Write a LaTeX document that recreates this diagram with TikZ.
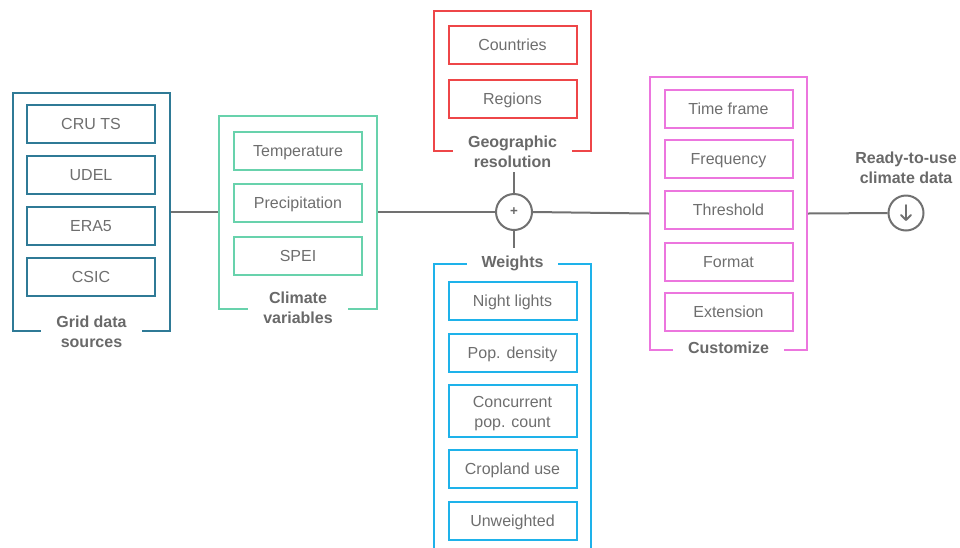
\documentclass[tikz,border=0pt]{standalone}
\usepackage{fontspec}
\setmainfont{Liberation Sans}
\usetikzlibrary{calc}
\newlength\ux
\setlength\ux{0.75pt}
\definecolor{gridc}{RGB}{47,122,150}
\definecolor{climc}{RGB}{104,210,172}
\definecolor{geoc}{RGB}{238,70,72}
\definecolor{weic}{RGB}{30,178,234}
\definecolor{cusc}{RGB}{236,118,222}
\definecolor{linec}{RGB}{113,113,113}
\definecolor{txtc}{RGB}{110,110,110}
\definecolor{labc}{RGB}{105,105,105}
\tikzset{
  itembox/.style={draw=#1, line width=2\ux, rectangle, inner sep=0pt,
    minimum width=128\ux, minimum height=38\ux, align=center, text=txtc,
    text height=8.8pt, text depth=0pt,
    font=\fontsize{12}{15}\selectfont},
  groupframe/.style={draw=#1, line width=2\ux, rectangle, inner sep=0pt},
  grouplabel/.style={fill=white, inner xsep=15\ux, inner ysep=1pt, align=center,
    text=labc, font=\fontsize{12}{15}\selectfont\bfseries},
  conn/.style={draw=linec, line width=2\ux},
  hub/.style={circle, draw=linec, line width=2\ux, fill=white, inner sep=0pt}
}
\begin{document}
\begin{tikzpicture}[x=0.75pt,y=-0.75pt]
\useasboundingbox (0,0) rectangle (960,547);

% group frames
\node[groupframe=gridc, minimum width=157\ux, minimum height=238\ux] (grid) at (91.5,212) {};
\node[groupframe=climc, minimum width=158\ux, minimum height=193\ux] (clim) at (298,212) {};
\node[groupframe=geoc, minimum width=157\ux, minimum height=140\ux] (geo) at (512.5,81) {};
\node[groupframe=weic, minimum width=157\ux, minimum height=296\ux] (wei) at (512.5,412) {};
\node[groupframe=cusc, minimum width=157\ux, minimum height=273\ux] (cus) at (728.5,213.5) {};

% grid data sources
\node[itembox=gridc] (cru) at (91,124) {CRU TS};
\node[itembox=gridc] (udel) at (91,175) {UDEL};
\node[itembox=gridc] (era) at (91,226) {ERA5};
\node[itembox=gridc] (csic) at (91,277) {CSIC};
\node[grouplabel] (gridlab) at (grid.south) {Grid data\\sources};

% climate variables
\node[itembox=climc] (temp) at (298,151) {Temperature};
\node[itembox=climc] (prec) at (298,203) {Precipitation};
\node[itembox=climc] (spei) at (298,256) {SPEI};
\node[grouplabel] (climlab) at ([yshift=2\ux]clim.south) {Climate\\variables};

% geographic resolution
\node[itembox=geoc] (ctry) at (512.5,45) {Countries};
\node[itembox=geoc] (reg) at (512.5,99) {Regions};
\node[grouplabel] (geolab) at (geo.south) {Geographic\\resolution};

% weights
\node[grouplabel] (weilab) at (wei.north) {Weights};
\node[itembox=weic] (night) at (512.5,301) {Night lights};
\node[itembox=weic] (popd) at (512.5,352.5) {Pop. density};
\node[itembox=weic, minimum height=52\ux, text height=24pt] (popc) at (512.5,411) {Concurrent\\pop. count};
\node[itembox=weic] (crop) at (512.5,469) {Cropland use};
\node[itembox=weic] (unw) at (512.5,520.5) {Unweighted};

% customize
\node[itembox=cusc] (time) at (728.5,109) {Time frame};
\node[itembox=cusc] (freq) at (728.5,159) {Frequency};
\node[itembox=cusc] (thr) at (728.5,210) {Threshold};
\node[itembox=cusc] (fmt) at (728.5,261.5) {Format};
\node[itembox=cusc] (ext) at (728.5,312) {Extension};
\node[grouplabel] (cuslab) at ([yshift=3\ux]cus.south) {Customize};

% hubs
\node[hub, minimum size=36\ux, text=labc, font=\fontsize{10}{10}\selectfont\bfseries] (plus) at (514,212) {+};
\node[hub, minimum size=35\ux] (dl) at (906,213) {};
\node[align=center, text=labc, font=\fontsize{12}{15}\selectfont\bfseries] (ready) at (906,168) {Ready-to-use\\climate data};

% connectors
\draw[conn] (grid.east) -- (clim.west);
\draw[conn] (clim.east) -- (plus.west);
\draw[conn] (plus.east) -- (cus.west);
\draw[conn] (cus.east) -- (dl.west);
\draw[conn] ([yshift=-3\ux]geolab.south -| plus) -- (plus.north);
\draw[conn] (plus.south) -- ([yshift=6\ux]weilab.north -| plus);

% download arrow
\draw[draw=linec, line width=1.8\ux, line cap=round, line join=round]
  ($(dl)+(0,-8)$) -- ($(dl)+(0,7)$)
  ($(dl)+(-5,2)$) -- ($(dl)+(0,7)$) -- ($(dl)+(5,2)$);
\end{tikzpicture}
\end{document}
